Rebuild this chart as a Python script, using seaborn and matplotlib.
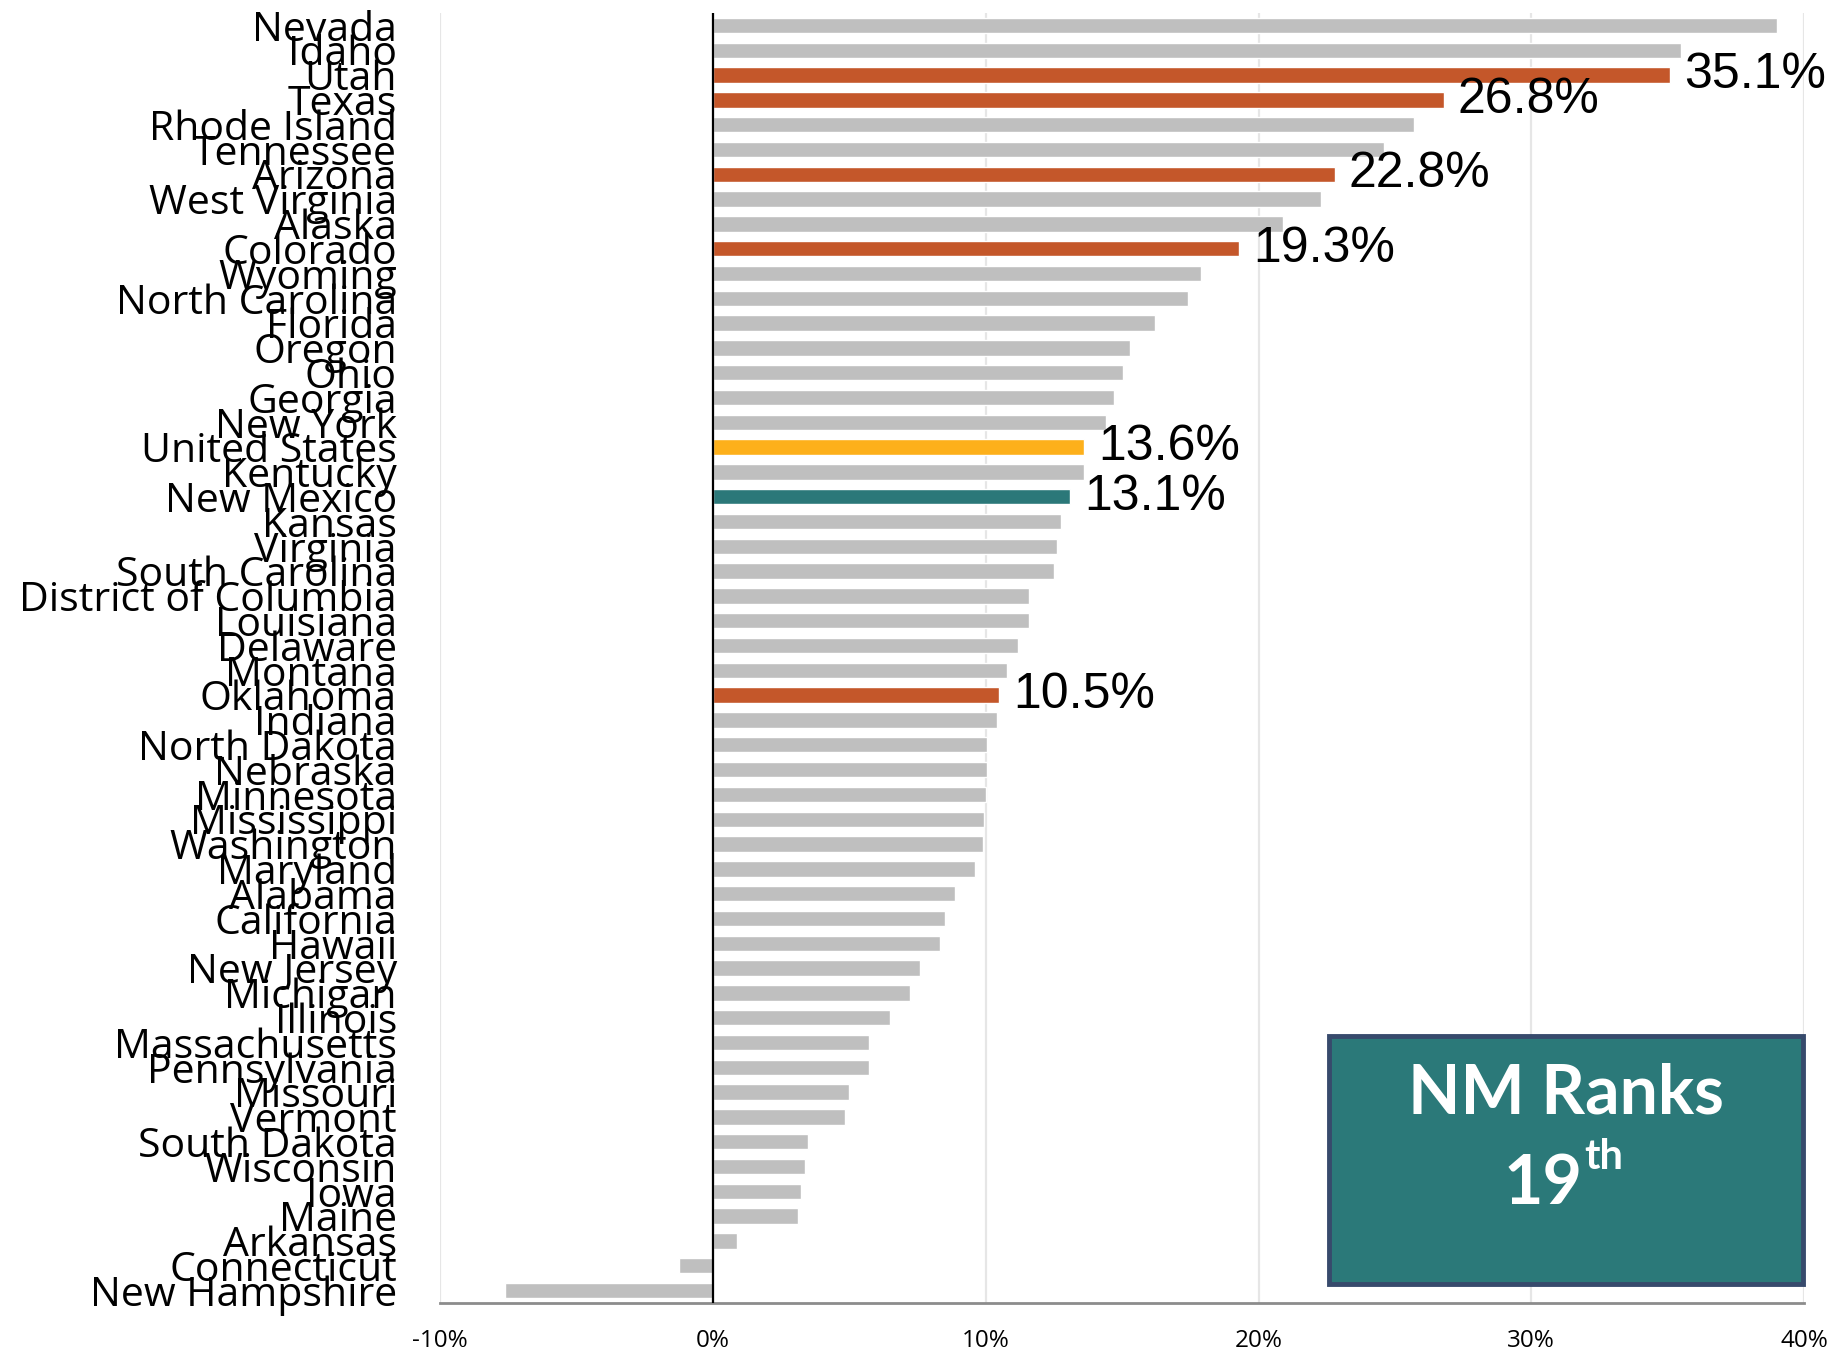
import matplotlib
matplotlib.use("Agg")
import matplotlib.pyplot as plt
import seaborn as sns
import pandas as pd
from matplotlib.patches import Rectangle
from matplotlib.ticker import FuncFormatter

# states, top to bottom, with growth rate (%)
states = [
    "Nevada", "Idaho", "Utah", "Texas", "Rhode Island", "Tennessee", "Arizona",
    "West Virginia", "Alaska", "Colorado", "Wyoming", "North Carolina", "Florida",
    "Oregon", "Ohio", "Georgia", "New York", "United States", "Kentucky",
    "New Mexico", "Kansas", "Virginia", "South Carolina", "District of Columbia",
    "Louisiana", "Delaware", "Montana", "Oklahoma", "Indiana", "North Dakota",
    "Nebraska", "Minnesota", "Mississippi", "Washington", "Maryland", "Alabama",
    "California", "Hawaii", "New Jersey", "Michigan", "Illinois", "Massachusetts",
    "Pennsylvania", "Missouri", "Vermont", "South Dakota", "Wisconsin", "Iowa",
    "Maine", "Arkansas", "Connecticut", "New Hampshire",
]
growth = [
    39.0, 35.5, 35.1, 26.8, 25.7, 24.6, 22.8,
    22.3, 20.9, 19.3, 17.9, 17.4, 16.2,
    15.3, 15.05, 14.7, 14.4, 13.6, 13.6,
    13.1, 12.75, 12.6, 12.5, 11.6,
    11.6, 11.2, 10.8, 10.5, 10.4, 10.05,
    10.05, 10.0, 9.95, 9.9, 9.6, 8.87,
    8.5, 8.33, 7.58, 7.22, 6.48, 5.73,
    5.73, 4.99, 4.86, 3.5, 3.37, 3.24,
    3.11, 0.87, -1.23, -7.6,
]
neighbors = ["Utah", "Texas", "Arizona", "Colorado", "Oklahoma"]
labeled = neighbors + ["United States", "New Mexico"]

GREY = "#BFBFBF"
ORANGE = "#C4572A"
GOLD = "#FDB01B"
TEAL = "#2B7879"

palette = {}
for s in states:
    if s in neighbors:
        palette[s] = ORANGE
    elif s == "United States":
        palette[s] = GOLD
    elif s == "New Mexico":
        palette[s] = TEAL
    else:
        palette[s] = GREY

df = pd.DataFrame({"state": states, "growth": growth})

sns.set_style("white")
plt.rcParams["font.family"] = ["Open Sans", "DejaVu Sans"]
plt.rcParams["text.color"] = "black"
plt.rcParams["xtick.labelcolor"] = "black"
plt.rcParams["ytick.labelcolor"] = "black"

fig = plt.figure(figsize=(18.41, 13.54), dpi=100)
ax = fig.add_axes([0.239, 0.0377, 0.741, 0.9527])

sns.barplot(data=df, x="growth", y="state", hue="state", palette=palette,
            orient="h", width=0.62, legend=False, ax=ax, saturation=1)

ax.set_xlim(-10, 40)
ax.set_ylim(len(states) - 0.5, -0.5)
ax.set_xticks([-10, 0, 10, 20, 30, 40])
ax.xaxis.set_major_formatter(FuncFormatter(lambda v, p: f"{v:.0f}%"))
ax.set_xlabel("")
ax.set_ylabel("")

ax.grid(axis="x", color="#E6E6E6", lw=1.6)
ax.set_axisbelow(True)
ax.axvline(0, color="black", lw=1.6, zorder=3)

for side in ["top", "right", "left"]:
    ax.spines[side].set_visible(False)
ax.spines["bottom"].set_color("#8C8C8C")
ax.spines["bottom"].set_linewidth(2)

ax.tick_params(axis="y", length=0, pad=31, labelsize=29.5, labelcolor="black")
ax.tick_params(axis="x", length=7, width=1.6, color="#8C8C8C", pad=12,
               labelsize=17.5, direction="out", labelcolor="black")

# value labels for highlighted bars
for i, (s, v) in enumerate(zip(states, growth)):
    if s in labeled:
        ax.annotate(f"{v:.1f}%", xy=(v, i), xytext=(10, 0), textcoords="offset points",
                    ha="left", va="center", fontsize=36, color="black",
                    family="Liberation Sans")

# rank box
ax.add_patch(Rectangle((0.652, 0.0147), 0.347, 0.192, transform=ax.transAxes,
                       facecolor="#2B7979", edgecolor="#374A6C", lw=3.5,
                       clip_on=False, zorder=5))
ax.text(0.8255, 0.162, "NM Ranks", transform=ax.transAxes, ha="center",
        va="center", color="white", fontsize=49, fontweight="bold",
        family="Lato", zorder=6)
ax.text(0.8255 + 0.012, 0.0915, "19", transform=ax.transAxes, ha="right",
        va="center", color="white", fontsize=49, fontweight="bold",
        family="Lato", zorder=6)
ax.text(0.8255 + 0.013, 0.113, "th", transform=ax.transAxes, ha="left",
        va="center", color="white", fontsize=30, fontweight="bold",
        family="Lato", zorder=6)

fig.savefig("out.png", dpi=100)
